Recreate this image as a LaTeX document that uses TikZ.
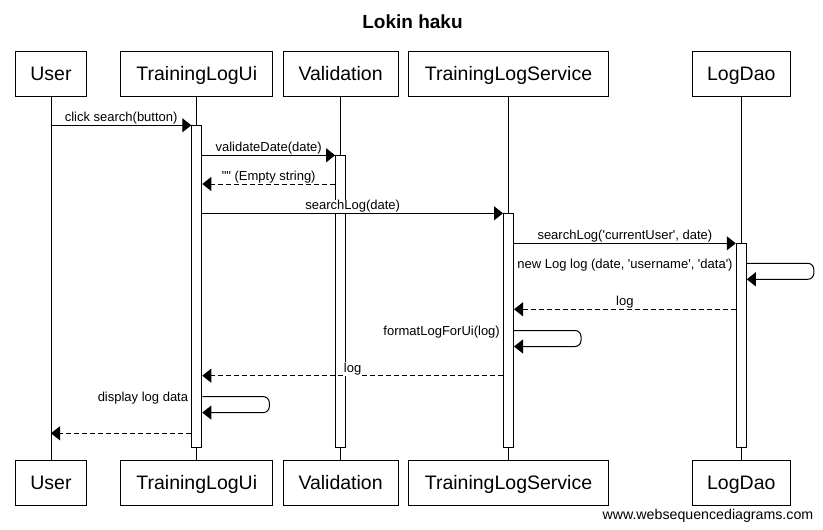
\documentclass[tikz,border=0pt]{standalone}
\usepackage{fontspec}
\setmainfont{Liberation Sans}[Ligatures=TeXOff]
\usetikzlibrary{arrows.meta}

\begin{document}
\begin{tikzpicture}[x=1pt,y=-1pt,
  actor/.style={draw,line width=1pt,minimum height=45.5pt,inner sep=0pt,font=\fontsize{19.5}{19.5}\selectfont,text height=14pt,text depth=0pt},
  life/.style={line width=1pt},
  actbar/.style={draw,fill=white,line width=1pt,minimum width=10pt,inner sep=0pt,anchor=north},
  msg/.style={line width=1pt,-{Triangle[length=9pt,width=14pt]}},
  ret/.style={msg,dash pattern=on 5pt off 3pt},
  lbl/.style={font=\fontsize{13}{13}\selectfont,fill=white,inner sep=0.5pt,anchor=base,yshift=3.4pt},
  selflbl/.style={font=\fontsize{13}{13}\selectfont,inner sep=0pt,anchor=base east,xshift=-3pt,yshift=-5.3pt}]
\useasboundingbox (0,0) rectangle (823,530);
\node[font=\bfseries\fontsize{19}{19}\selectfont,anchor=base] (title) at (412.5,28.3) {Lokin haku};

\node[actor,minimum width=71.4pt] (usertop) at (51,73.8) {User};
\node[actor,minimum width=152pt] (uitop) at (196.8,73.8) {TrainingLogUi};
\node[actor,minimum width=115pt] (valtop) at (340.6,73.8) {Validation};
\node[actor,minimum width=200.4pt] (srvtop) at (508.5,73.8) {TrainingLogService};
\node[actor,minimum width=98.4pt] (daotop) at (741.3,73.8) {LogDao};
\node[actor,minimum width=71.4pt] (userbot) at (51,482.8) {User};
\node[actor,minimum width=152pt] (uibot) at (196.8,482.8) {TrainingLogUi};
\node[actor,minimum width=115pt] (valbot) at (340.6,482.8) {Validation};
\node[actor,minimum width=200.4pt] (srvbot) at (508.5,482.8) {TrainingLogService};
\node[actor,minimum width=98.4pt] (daobot) at (741.3,482.8) {LogDao};

\draw[life] (usertop) -- (userbot);
\draw[life] (uitop) -- (uibot);
\draw[life] (valtop) -- (valbot);
\draw[life] (srvtop) -- (srvbot);
\draw[life] (daotop) -- (daobot);

\node[actbar,minimum height=321.2pt] (uiact) at (uitop.south |- 0,125.3) {};
\node[actbar,minimum height=291.7pt] (valact) at (valtop.south |- 0,155.3) {};
\node[actbar,minimum height=233.7pt] (srvact) at (srvtop.south |- 0,213.3) {};
\node[actbar,minimum height=203.7pt] (daoact) at (daotop.south |- 0,243.3) {};

\draw[msg] (usertop |- 0,125.3) -- (uiact.west |- 0,125.3) node[lbl,midway] {click search(button)};
\draw[msg] (uiact.east |- 0,155.3) -- (valact.west |- 0,155.3) node[lbl,midway] {validateDate(date)};
\draw[ret] (valact.west |- 0,184) -- (uiact.east |- 0,184) node[lbl,midway] {"" (Empty string)};
\draw[msg] (uiact.east |- 0,213.3) -- (srvact.west |- 0,213.3) node[lbl,midway] {searchLog(date)};
\draw[msg] (srvact.east |- 0,243.3) -- (daoact.west |- 0,243.3) node[lbl,midway] {searchLog('currentUser', date)};
\draw[msg,rounded corners=6pt] (daoact.east |- 0,263.3) -- ++(67,0) -- ++(0,16) -- (daoact.east |- 0,279.3);
\node[selflbl] (newlog) at (daoact.west |- 0,263.3) {new Log log (date, 'username', 'data')};
\draw[ret] (daoact.west |- 0,309.3) -- (srvact.east |- 0,309.3) node[lbl,midway] {log};
\draw[msg,rounded corners=6pt] (srvact.east |- 0,330.5) -- ++(67,0) -- ++(0,16) -- (srvact.east |- 0,346.5);
\node[selflbl] (fmtlog) at (srvact.west |- 0,330.5) {formatLogForUi(log)};
\draw[ret] (srvact.west |- 0,375.7) -- (uiact.east |- 0,375.7) node[lbl,midway] {log};
\draw[msg,rounded corners=6pt] (uiact.east |- 0,396.6) -- ++(67,0) -- ++(0,16) -- (uiact.east |- 0,412.6);
\node[selflbl] (showlog) at (uiact.west |- 0,396.6) {display log data};
\draw[ret] (uiact.west |- 0,433.3) -- (usertop |- 0,433.3);

\node[font=\fontsize{14.2}{14.2}\selectfont,anchor=base east,inner sep=0pt] (wsd) at (813.5,519) {www.websequencediagrams.com};
\end{tikzpicture}
\end{document}
